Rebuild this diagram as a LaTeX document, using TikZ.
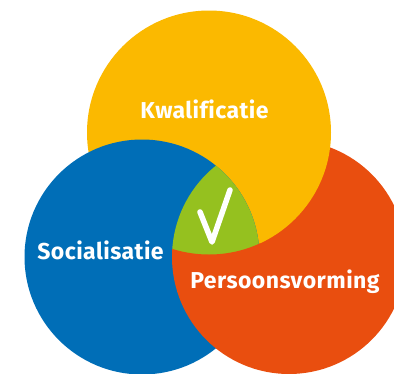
\documentclass[tikz,border=0pt]{standalone}
\usepackage{fontspec}
\setmainfont{Fira Sans}[LetterSpace=2.0,Ligatures=NoCommon]
\definecolor{kwalgeel}{HTML}{FBB900}
\definecolor{sociblauw}{HTML}{006EB7}
\definecolor{persoranje}{HTML}{E94E0F}
\definecolor{midgroen}{HTML}{95C11F}
\def\kwalr{122pt}
\def\socir{117.5pt}
\def\persr{117pt}
\begin{document}
\begin{tikzpicture}[x=1pt,y=-1pt,
	domlabel/.style={text=white,font=\bfseries\fontsize{23}{25}\selectfont,anchor=base,inner sep=0pt}]
	\useasboundingbox (0,0) rectangle (394,373);
	\clip (0,0) rectangle (394,373);

	%middelpunten
	\coordinate (kwal) at (209,132.5);
	\coordinate (soci) at (142,257);
	\coordinate (pers) at (289,257);

	%oranje onderop, dan geel, dan blauw
	\fill[persoranje] (pers) circle[radius=\persr];
	\fill[kwalgeel] (kwal) circle[radius=\kwalr];
	\fill[sociblauw] (soci) circle[radius=\socir];

	%groen midden (iets te groot, oranje dekt de rand af)
	\begin{scope}
		\clip (pers) circle[radius=\persr];
		\clip (soci) circle[radius=\socir];
		\fill[midgroen] (kwal) circle[radius=\kwalr+1pt];
	\end{scope}

	%oranje over blauw
	\begin{scope}[even odd rule]
		\clip (pers) circle[radius=\persr];
		\clip (0,0) rectangle (394,373) (kwal) circle[radius=\kwalr];
		\fill[persoranje] (soci) circle[radius=\socir+1pt];
	\end{scope}

	%vinkje
	\coordinate (vinkL) at (200,212);
	\coordinate (vinkB) at (212,242);
	\coordinate (vinkR) at (230,190);
	\draw[white, line width=5.5pt, line cap=round, line join=round] (vinkL) -- (vinkB) -- (vinkR);

	%labels
	\node[domlabel] (kwaltxt) at (204.5,118) {Kwalificatie};
	\node[domlabel] (socitxt) at (100.5,259) {Socialisatie};
	\node[domlabel] (perstxt) at (285,288) {Persoonsvorming};

\end{tikzpicture}
\end{document}
